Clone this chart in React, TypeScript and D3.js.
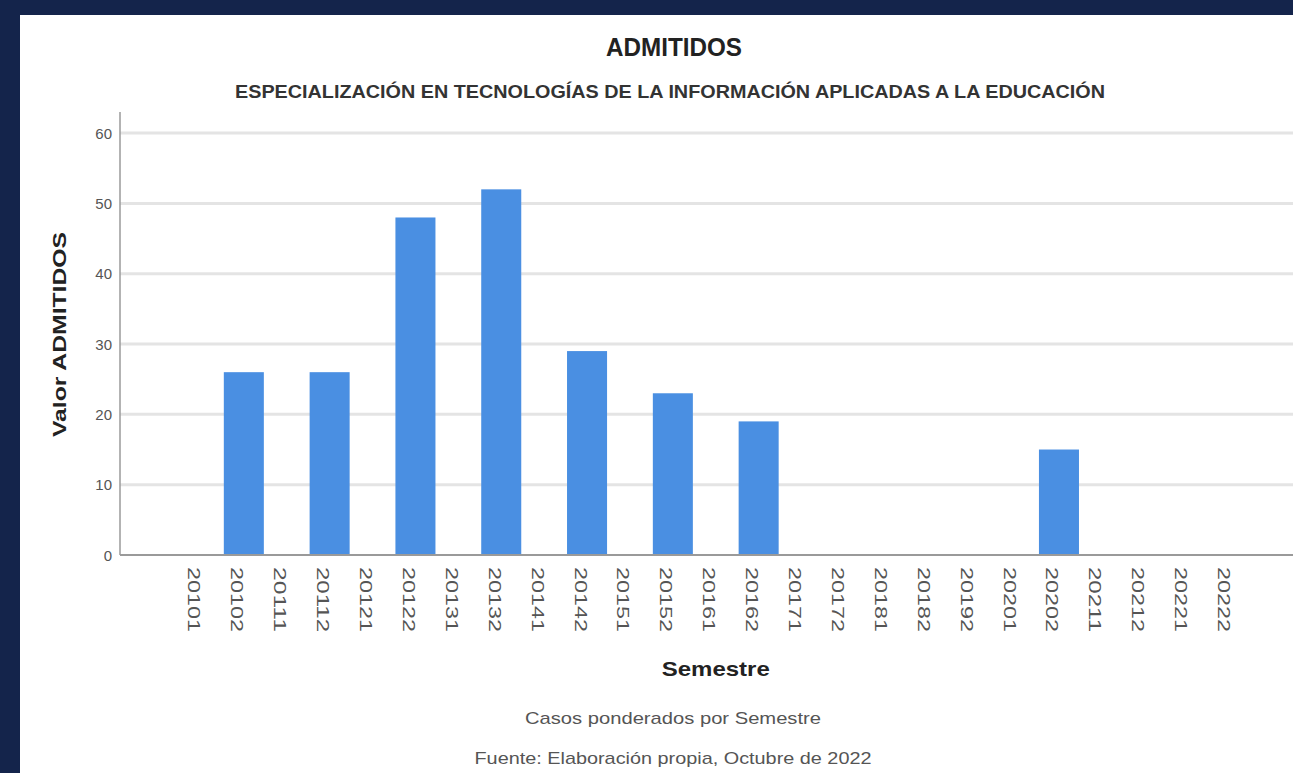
import React from "react";
import * as d3 from "d3";

const categories = [
  "20101", "20102", "20111", "20112", "20121", "20122", "20131", "20132",
  "20141", "20142", "20151", "20152", "20161", "20162", "20171", "20172",
  "20181", "20182", "20192", "20201", "20202", "20211", "20212", "20221", "20222",
];
const values = [0, 26, 0, 26, 0, 48, 0, 52, 0, 29, 0, 23, 0, 19, 0, 0, 0, 0, 0, 0, 15, 0, 0, 0, 0];
const yTicks = [0, 10, 20, 30, 40, 50, 60];

const title = "ADMITIDOS";
const subtitle = "ESPECIALIZACIÓN EN TECNOLOGÍAS DE LA INFORMACIÓN APLICADAS A LA EDUCACIÓN";
const yLabel = "Valor ADMITIDOS";
const xLabel = "Semestre";
const note1 = "Casos ponderados por Semestre";
const note2 = "Fuente: Elaboración propia, Octubre de 2022";

const W = 1293;
const H = 773;
const FONT = "'Liberation Sans', Arial, Helvetica, sans-serif";

export default function App() {
  const x = d3
    .scaleBand<string>()
    .domain(categories)
    .range([179.5, 179.5 + 25 * 42.9])
    .paddingInner(0.067)
    .paddingOuter(0.033);
  const y = d3.scaleLinear().domain([0, 63]).range([555, 112]);
  const axisX = 120;
  const plotCenter = (x.range()[0] + x.range()[1]) / 2;

  return (
    <svg
      width={W}
      height={H}
      style={{ position: "absolute", left: 0, top: 0, display: "block" }}
      fontFamily={FONT}
    >
      <rect x={0} y={0} width={W} height={H} fill="#14244b" />
      <rect x={20} y={15} width={W - 20} height={H - 15} fill="#ffffff" />

      {/* gridlines */}
      {yTicks.filter((t) => t > 0).map((t) => (
        <line
          key={"g" + t}
          x1={axisX}
          x2={W}
          y1={y(t)}
          y2={y(t)}
          stroke="#e4e4e4"
          strokeWidth={3}
        />
      ))}

      {/* bars */}
      {categories.map((c, i) =>
        values[i] > 0 ? (
          <rect
            key={"b" + c}
            x={x(c)!}
            y={y(values[i])}
            width={x.bandwidth()}
            height={y(0) - y(values[i])}
            fill="#4a8fe2"
          />
        ) : null
      )}

      {/* axes */}
      <line x1={axisX} x2={axisX} y1={112} y2={y(0)} stroke="#9a9a9a" strokeWidth={1.5} />
      <line x1={axisX} x2={W} y1={y(0)} y2={y(0)} stroke="#9a9a9a" strokeWidth={2} />

      {/* y tick labels */}
      {yTicks.map((t) => (
        <text
          key={"t" + t}
          x={112}
          y={y(t)}
          textAnchor="end"
          dominantBaseline="central"
          fontSize={15}
          fill="#555"
        >
          {t}
        </text>
      ))}

      {/* x tick labels */}
      {categories.map((c) => (
        <text
          key={"x" + c}
          transform={`translate(${x(c)! + x.bandwidth() / 2 - 7},567) rotate(90)`}
          textAnchor="start"
          dominantBaseline="central"
          fontSize={16}
          textLength={65}
          lengthAdjust="spacingAndGlyphs"
          fill="#555"
        >
          {c}
        </text>
      ))}

      {/* titles */}
      <text
        transform="translate(674,47) scale(1,1.2)"
        textAnchor="middle"
        dominantBaseline="central"
        fontSize={21}
        fontWeight="bold"
        textLength={136}
        lengthAdjust="spacingAndGlyphs"
        fill="#222"
      >
        {title}
      </text>
      <text
        transform="translate(670,92) scale(1,1.2)"
        textAnchor="middle"
        dominantBaseline="central"
        fontSize={15}
        fontWeight="bold"
        textLength={870}
        lengthAdjust="spacingAndGlyphs"
        fill="#333"
      >
        {subtitle}
      </text>

      <text
        transform="translate(60,334.5) rotate(-90)"
        textAnchor="middle"
        dominantBaseline="central"
        fontSize={18}
        fontWeight="bold"
        textLength={205}
        lengthAdjust="spacingAndGlyphs"
        fill="#222"
      >
        {yLabel}
      </text>

      <text
        x={plotCenter}
        y={668}
        textAnchor="middle"
        dominantBaseline="central"
        fontSize={21}
        fontWeight="bold"
        textLength={108}
        lengthAdjust="spacingAndGlyphs"
        fill="#222"
      >
        {xLabel}
      </text>
      <text
        x={673}
        y={718}
        textAnchor="middle"
        dominantBaseline="central"
        fontSize={17}
        textLength={296}
        lengthAdjust="spacingAndGlyphs"
        fill="#555"
      >
        {note1}
      </text>
      <text
        x={673}
        y={758}
        textAnchor="middle"
        dominantBaseline="central"
        fontSize={17}
        textLength={397}
        lengthAdjust="spacingAndGlyphs"
        fill="#555"
      >
        {note2}
      </text>
    </svg>
  );
}
